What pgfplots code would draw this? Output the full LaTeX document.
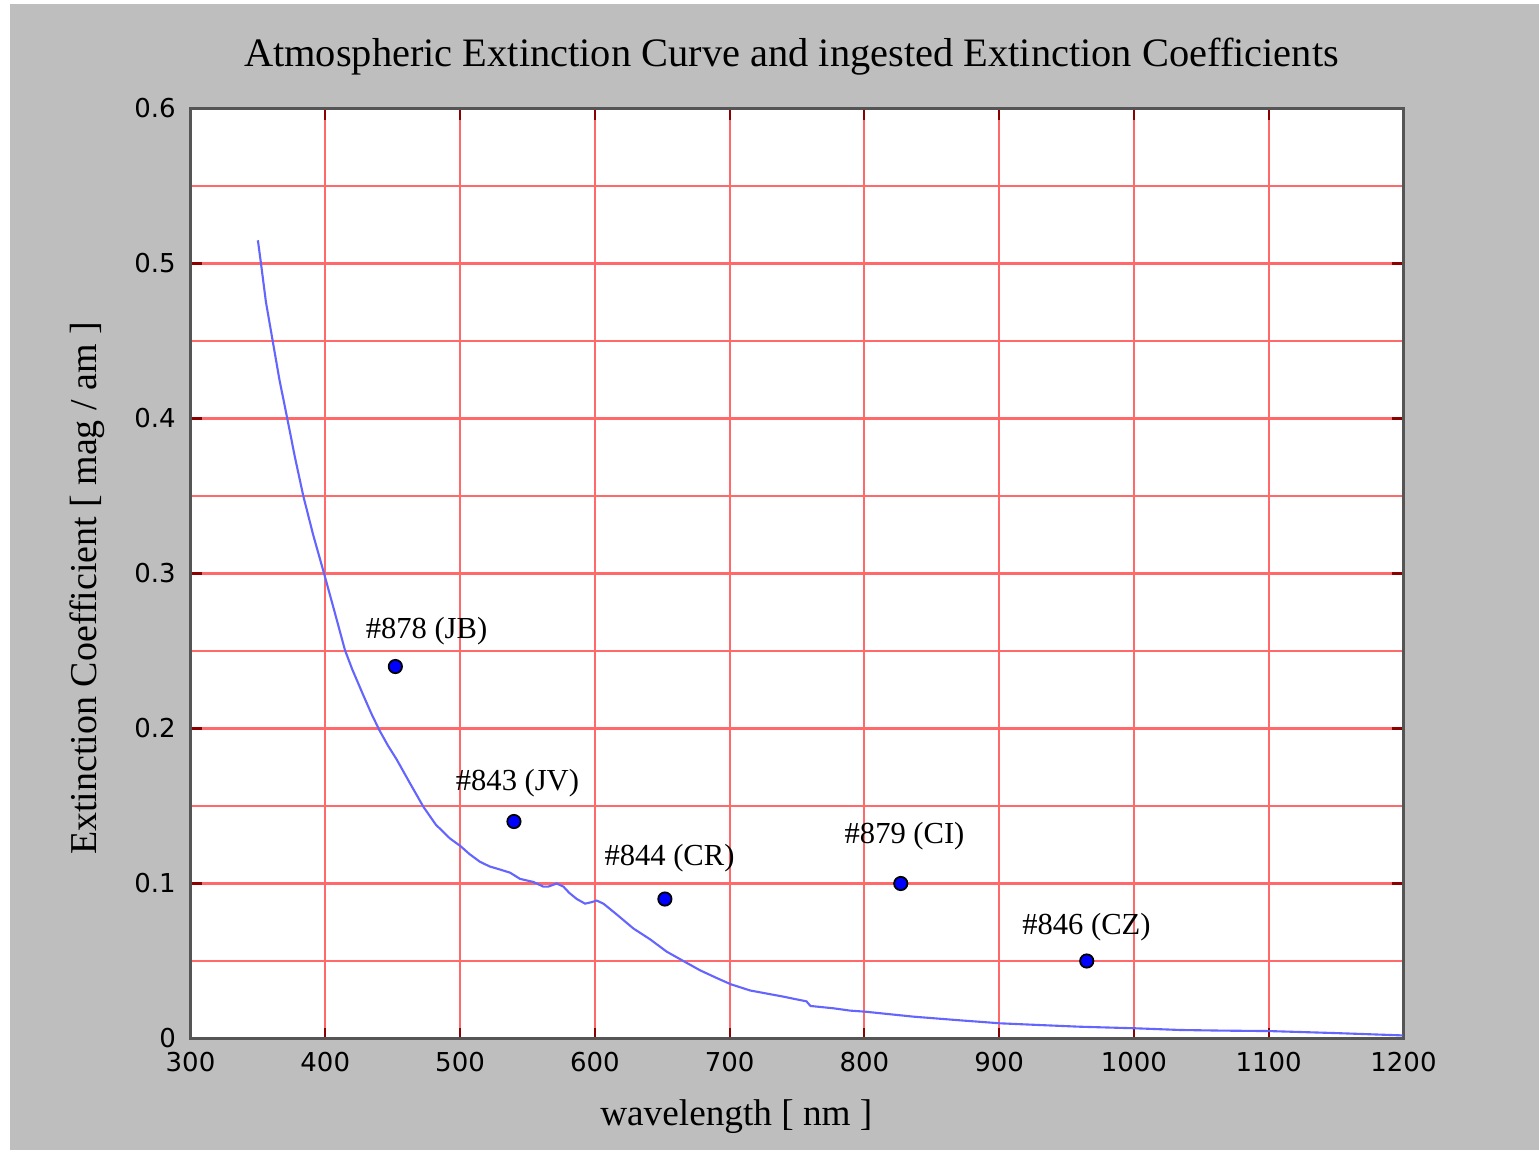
\documentclass[border=0pt]{standalone}
\usepackage{fontspec}
\setmainfont{Liberation Serif}
\newfontfamily\ticfont{DejaVu Sans}
\usepackage{pgfplots}
\pgfplotsset{compat=1.18}

\definecolor{bggray}{RGB}{190,190,190}
\definecolor{framegray}{RGB}{85,85,85}
\definecolor{gridred}{RGB}{255,105,105}
\definecolor{tickred}{RGB}{140,0,0}
\definecolor{curveblue}{RGB}{100,100,255}

% extinction curve
\pgfplotstableread{
x      y
350.0  0.515
352.3  0.500
356.0  0.475
361.0  0.450
366.0  0.425
371.8  0.400
377.5  0.375
383.7  0.350
391.0  0.325
399.1  0.300
407.0  0.275
414.6  0.2506
420.0  0.2382
428.2  0.2215
434.0  0.2100
440.1  0.199
446.5  0.189
453.0  0.180
462.0  0.166
472.8  0.1495
482.0  0.138
492.6  0.129
500.5  0.124
507.0  0.119
514.8  0.114
522.0  0.111
529.7  0.109
537.1  0.107
544.5  0.103
554.4  0.101
561.8  0.098
565.5  0.098
571.7  0.100
576.7  0.098
581.0  0.094
586.6  0.090
592.8  0.087
597.7  0.088
601.4  0.089
606.4  0.087
616.3  0.080
628.6  0.071
641.0  0.064
653.4  0.056
665.7  0.050
678.1  0.044
690.5  0.039
700.9  0.035
715.2  0.031
727.6  0.029
740.0  0.027
751.1  0.025
757.0  0.024
760.0  0.021
777.0  0.0195
789.4  0.018
800.8  0.0173
836.4  0.0141
870.0  0.0118
900.8  0.0098
930.0  0.0087
960.2  0.0076
1001.0 0.0066
1034.4 0.0055
1065.0 0.0051
1100.4 0.0048
1150.0 0.0035
1199.3 0.0020
}\curvetable

\pgfplotstableread{
x    y
452  0.24
540  0.14
652  0.09
827  0.10
965  0.05
}\coeftable

\begin{document}
\begin{tikzpicture}
\path[use as bounding box, fill=white] (-1.905,-1.125) rectangle (13.485,10.385);
\fill[bggray] (-1.805,-1.115) rectangle (13.485,10.345);
\begin{axis}[
    at={(0,0)}, anchor=south west,
    scale only axis,
    width=12.13cm, height=9.30cm,
    xmin=300, xmax=1200,
    ymin=0, ymax=0.6,
    xtick={300,400,500,600,700,800,900,1000,1100,1200},
    ytick={0,0.1,0.2,0.3,0.4,0.5,0.6},
    minor ytick={0.05,0.15,0.25,0.35,0.45,0.55},
    minor tick length=0pt,
    major tick length=0.11cm,
    tick align=inside,
    grid=both,
    major grid style={draw=gridred, line width=0.6pt},
    minor grid style={draw=gridred, line width=0.6pt},
    axis line style={draw=framegray, line width=1pt},
    tick style={draw=tickred, line width=0.6pt},
    axis background/.style={fill=white},
    /pgf/number format/assume math mode=true,
    /pgf/number format/1000 sep={},
    tick label style={font=\ticfont\fontsize{7.4pt}{8pt}\selectfont, text=black, inner sep=0pt},
    yticklabel style={anchor=east, xshift=-0.14cm},
    xticklabel style={anchor=north, yshift=-0.13cm},
    title={Atmospheric Extinction Curve and ingested Extinction Coefficients},
    title style={at={(axis description cs:0.4955,1)}, anchor=base, yshift=0.214cm,
        inner sep=0pt, font=\fontsize{11.5pt}{13pt}\selectfont},
    xlabel={wavelength [ nm ]},
    xlabel style={at={(axis description cs:0.450,-0.093)}, anchor=base,
        inner sep=0pt, font=\fontsize{10.6pt}{12pt}\selectfont},
    ylabel={Extinction Coefficient [ mag / am ]},
    ylabel style={at={(axis description cs:-0.0775,0.484)}, anchor=base,
        inner sep=0pt, font=\fontsize{10.8pt}{12pt}\selectfont},
]
    \addplot[curveblue, line width=0.6pt, no markers] table[x=x, y=y] {\curvetable};
    \addplot[only marks, mark=*, mark size=1.9pt,
        mark options={fill=blue, draw=black, line width=0.5pt}]
        table[x=x, y=y] {\coeftable};

    \begin{scope}[every node/.style={font=\fontsize{8.7pt}{10pt}\selectfont, inner sep=0pt}]
        \node at (axis cs:475.1,0.2626) {\#878 (JB)};
        \node at (axis cs:542.6,0.1645) {\#843 (JV)};
        \node at (axis cs:655.4,0.1161) {\#844 (CR)};
        \node at (axis cs:829.8,0.1303) {\#879 (CI)};
        \node at (axis cs:964.8,0.0716) {\#846 (CZ)};
    \end{scope}
\end{axis}
\end{tikzpicture}
\end{document}
